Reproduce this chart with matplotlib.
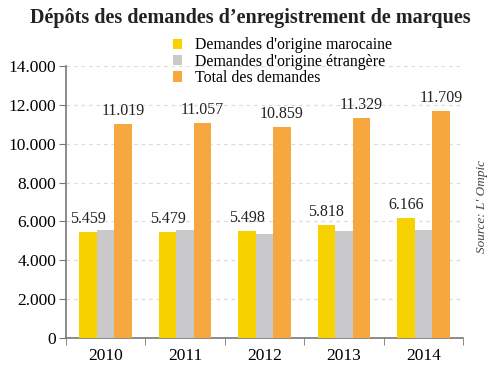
import numpy as np
import matplotlib.pyplot as plt

years = ['2010', '2011', '2012', '2013', '2014']
marocaine = [5459, 5479, 5498, 5818, 6166]
etrangere = [5560, 5578, 5361, 5511, 5543]
total = [11019, 11057, 10859, 11329, 11709]

c_yellow = '#F8D200'
c_gray = '#C9C9CB'
c_orange = '#F6A83E'

plt.rcParams['font.family'] = ['Liberation Serif', 'DejaVu Serif']

fig = plt.figure(figsize=(5, 3.69), dpi=100)
ax = fig.add_axes([0.132, 0.084, 0.794, 0.737])

x = np.arange(len(years))
w = 0.22
b1 = ax.bar(x - w, marocaine, w, color=c_yellow, label="Demandes d'origine marocaine", zorder=3)
b2 = ax.bar(x, etrangere, w, color=c_gray, label="Demandes d'origine étrangère", zorder=3)
b3 = ax.bar(x + w, total, w, color=c_orange, label='Total des demandes', zorder=3)

def fmt(v):
    return '{:,}'.format(v).replace(',', '.')

for i in range(len(years)):
    ax.text(x[i] - w, marocaine[i] + 250, fmt(marocaine[i]), ha='center', va='bottom',
            fontsize=11.5, color='#222222')
    ax.text(x[i] + w, total[i] + 250, fmt(total[i]), ha='center', va='bottom',
            fontsize=11.5, color='#222222')

ax.set_xlim(-0.5, len(years) - 0.5)
ax.set_ylim(0, 14000)
yt = np.arange(0, 14001, 2000)
ax.set_yticks(yt)
ax.set_yticklabels([fmt(int(v)) for v in yt], fontsize=12.5)
ax.set_xticks(x)
ax.set_xticklabels(years, fontsize=12.5)
ax.set_xticks(np.arange(-0.5, len(years)), minor=True)
ax.tick_params(axis='x', which='major', length=0, pad=7)
ax.tick_params(axis='x', which='minor', length=5, color='#777777', direction='out')
ax.tick_params(axis='y', length=5, color='#777777', pad=2)

ax.yaxis.grid(True, linestyle=(0, (3, 3)), color='#DDDDDD', linewidth=0.9, zorder=0)
for s in ['top', 'right']:
    ax.spines[s].set_visible(False)
for s in ['left', 'bottom']:
    ax.spines[s].set_color('#777777')
    ax.spines[s].set_linewidth(1.2)

fig.text(0.5, 0.952, 'Dépôts des demandes d’enregistrement de marques', ha='center',
         va='center', fontsize=14.5, fontweight='bold', color='#222222')

fig.legend(handles=[b1, b2, b3], loc='upper left', bbox_to_anchor=(0.33, 0.92),
           frameon=False, fontsize=11.4, handlelength=0.6, handleheight=0.6,
           handletextpad=0.8, labelspacing=0.02, borderpad=0)

fig.text(0.964, 0.44, "Source: L' Ompic", rotation=90, ha='center', va='center',
         fontsize=9.5, style='italic', color='#444444')

fig.savefig('out.png', dpi=100)
